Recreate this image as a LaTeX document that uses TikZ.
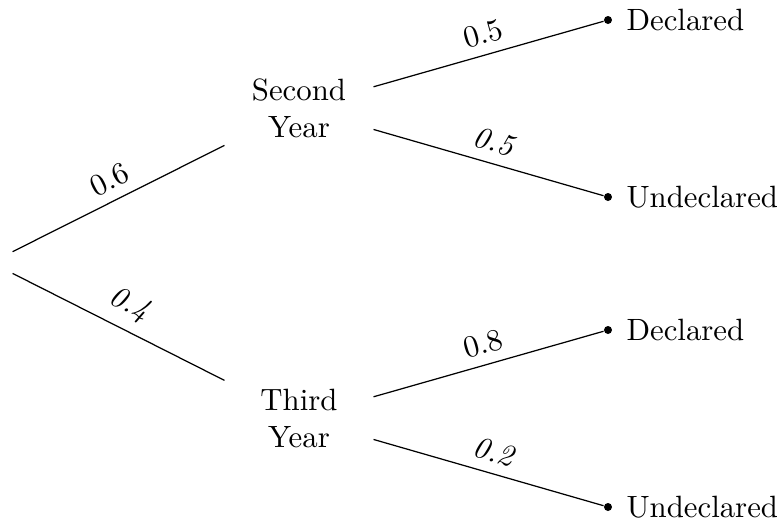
\documentclass[tikz,border=0pt]{standalone}
\begin{document}
\begin{tikzpicture}[x=0.3247pt, y=-0.3247pt,
  rootnode/.style={minimum width=13.6pt, minimum height=9pt, inner sep=0pt},
  stage/.style={align=center, minimum width=48pt, minimum height=30pt},
  leaf/.style={circle, fill, inner sep=0pt, minimum size=2.6pt},
  prob/.style={above, sloped, midway}]
\useasboundingbox (0,0) rectangle (780,520);
\node[rootnode] (root) at (-9,262.5) {};
\node[stage] (sy) at (299,108) {Second\\Year};
\node[stage] (ty) at (299,418) {Third\\Year};
\node[leaf, label={[label distance=1pt]right:Declared}] (d1) at (608,20) {};
\node[leaf, label={[label distance=1pt]right:Undeclared}] (u1) at (608,197) {};
\node[leaf, label={[label distance=1pt]right:Declared}] (d2) at (608,330) {};
\node[leaf, label={[label distance=1pt]right:Undeclared}] (u2) at (608,507) {};
\draw (root) -- node[prob] {$0.6$} (sy);
\draw (root) -- node[prob] {\textit{0.4}} (ty);
\draw (sy) -- node[prob] {$0.5$} (d1);
\draw (sy) -- node[prob] {\textit{0.5}} (u1);
\draw (ty) -- node[prob] {$0.8$} (d2);
\draw (ty) -- node[prob] {\textit{0.2}} (u2);
\end{tikzpicture}
\end{document}
